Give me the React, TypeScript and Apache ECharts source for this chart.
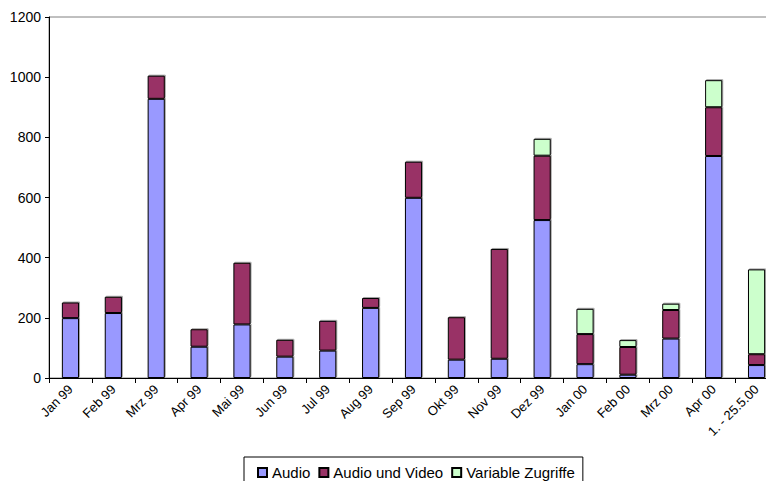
import React, { useEffect, useRef } from "react";
import * as echarts from "echarts";

const categories = [
  "Jan 99", "Feb 99", "Mrz 99", "Apr 99", "Mai 99", "Jun 99", "Jul 99", "Aug 99",
  "Sep 99", "Okt 99", "Nov 99", "Dez 99", "Jan 00", "Feb 00", "Mrz 00", "Apr 00",
  "1. - 25.5.00",
];
const audio = [199, 216, 928, 104, 178, 71, 91, 233, 599, 61, 64, 525, 46, 11, 131, 738, 43];
const audioVideo = [52, 54, 77, 58, 205, 56, 99, 33, 120, 141, 365, 214, 100, 92, 95, 162, 36];
const variable = [0, 0, 0, 0, 0, 0, 0, 0, 0, 0, 3, 56, 84, 23, 21, 90, 282];
const yTicks = { min: 0, max: 1200, interval: 200 };

const FONT = "'Liberation Sans', Arial, sans-serif";

export default function App() {
  const ref = useRef<HTMLDivElement>(null);
  useEffect(() => {
    if (!ref.current) return;
    const chart = echarts.init(ref.current, null, { renderer: "svg" });
    const barStyle = (color: string) => ({
      color,
      borderColor: "#000",
      borderWidth: 1,
      shadowColor: "rgba(0,0,0,0.35)",
      shadowOffsetX: 1,
      shadowOffsetY: -1,
      shadowBlur: 0,
    });
    const mk = (name: string, data: number[], color: string) => ({
      name,
      type: "bar",
      stack: "total",
      data,
      barWidth: "40%",
      itemStyle: barStyle(color),
      emphasis: { disabled: true },
    });
    chart.setOption({
      animation: false,
      backgroundColor: "#fff",
      textStyle: { fontFamily: FONT },
      grid: {
        left: 49,
        right: 2,
        top: 17,
        bottom: 103,
        show: true,
        borderColor: "#808080",
        borderWidth: 1,
        backgroundColor: "transparent",
      },
      legend: {
        left: 244,
        top: 457,
        orient: "horizontal",
        icon: "rect",
        itemWidth: 9,
        itemHeight: 9,
        itemGap: 8,
        borderColor: "#000",
        borderWidth: 1,
        padding: [8, 8, 10, 13],
        textStyle: { fontSize: 15, color: "#000", fontFamily: FONT },
        data: ["Audio", "Audio und Video", "Variable Zugriffe"],
      },
      xAxis: {
        type: "category",
        data: categories,
        boundaryGap: true,
        axisLine: { lineStyle: { color: "#000", width: 1 } },
        axisTick: { show: true, length: 5, lineStyle: { color: "#000" }, interval: 0 },
        axisLabel: {
          rotate: 45,
          interval: 0,
          margin: 9,
          fontSize: 13,
          color: "#000",
          fontFamily: FONT,
        },
      },
      yAxis: {
        type: "value",
        min: yTicks.min,
        max: yTicks.max,
        interval: yTicks.interval,
        axisLine: { show: true, lineStyle: { color: "#000", width: 1 } },
        axisTick: { show: true, length: 4, lineStyle: { color: "#000" } },
        splitLine: { show: false },
        axisLabel: {
          margin: 8,
          fontSize: 14,
          color: "#000",
          fontFamily: FONT,
          formatter: (v: number) => String(v),
        },
      },
      series: [
        mk("Audio", audio, "#9999FF"),
        mk("Audio und Video", audioVideo, "#993366"),
        mk("Variable Zugriffe", variable, "#CCFFCC"),
      ],
    });
    return () => chart.dispose();
  }, []);
  return (
    <div
      style={{
        position: "fixed",
        left: 0,
        top: 0,
        width: 766,
        height: 481,
        overflow: "hidden",
        background: "#fff",
      }}
    >
      <div ref={ref} style={{ width: 780, height: 481 }} />
    </div>
  );
}
